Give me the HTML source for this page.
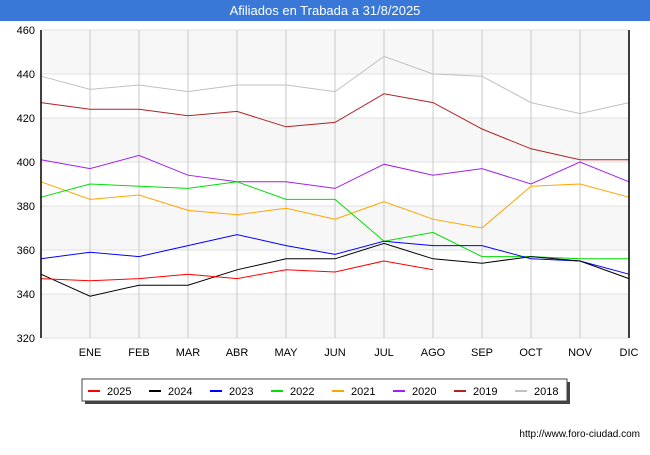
<!DOCTYPE html>
<html><head><meta charset="utf-8"><style>
body{margin:0;width:650px;height:450px;background:#fff;font-family:"Liberation Sans",sans-serif;overflow:hidden}
</style></head><body>
<svg id="c" width="650" height="450" xmlns="http://www.w3.org/2000/svg">
<rect x="0" y="0" width="650" height="21" fill="#3a78d8"/>
<text x="325" y="15" text-anchor="middle" font-size="13" fill="#fff">Afiliados en Trabada a 31/8/2025</text>
<g id="grid"></g><g id="series"></g><g id="axes"></g><g id="legend"></g>
<text x="640" y="437" text-anchor="end" font-size="10" fill="#000">http://www.foro-ciudad.com</text>
</svg>
<script>
const months=["","ENE","FEB","MAR","ABR","MAY","JUN","JUL","AGO","SEP","OCT","NOV","DIC"];
const yTicks=[320,340,360,380,400,420,440,460];
const seriesNames=["2025","2024","2023","2022","2021","2020","2019","2018"];
const seriesColors=["#ff0000","#000000","#0000ff","#00e000","#ffa500","#a020f0","#b22222","#c0c0c0"];
const s2025=[347,346,347,349,347,351,350,355,351];
const s2024=[349,339,344,344,351,356,356,363,356,354,357,355,347];
const s2023=[356,359,357,362,367,362,358,364,362,362,356,355,349];
const s2022=[384,390,389,388,391,383,383,364,368,357,357,356,356];
const s2021=[391,383,385,378,376,379,374,382,374,370,389,390,384];
const s2020=[401,397,403,394,391,391,388,399,394,397,390,400,391];
const s2019=[427,424,424,421,423,416,418,431,427,415,406,401,401];
const s2018=[439,433,435,432,435,435,432,448,440,439,427,422,427];
const allSeries=[s2025,s2024,s2023,s2022,s2021,s2020,s2019,s2018];
const NS="http://www.w3.org/2000/svg";
const X0=41,X1=629,Y0=338,Y1=30;
const xs=i=>X0+i*(X1-X0)/12;
const ys=v=>Y0-(v-320)*(Y0-Y1)/140;
function mk(t,a,p){const e=document.createElementNS(NS,t);for(const k in a)e.setAttribute(k,a[k]);p.appendChild(e);return e;}
const grid=document.getElementById('grid'),axes=document.getElementById('axes'),ser=document.getElementById('series'),leg=document.getElementById('legend');
for(let i=0;i<yTicks.length-1;i++){
 if(i%2===0){const b=mk('rect',{x:X0,y:ys(yTicks[i+1]),width:X1-X0,height:ys(yTicks[i])-ys(yTicks[i+1]),fill:'#f7f7f7'},grid);
 
 }
}
yTicks.forEach(v=>{
 const l=mk('line',{x1:X0,x2:X1,y1:ys(v),y2:ys(v),stroke:'#e0e0e0'},grid);
 
 
 const t=mk('text',{x:X0-6,y:ys(v)+4,'text-anchor':'end','font-size':11,fill:'#000'},axes);t.textContent=v;
 
 
});
months.forEach((m,i)=>{
 if(i>0){const l=mk('line',{x1:xs(i),x2:xs(i),y1:Y1,y2:Y0,stroke:'#c8c8c8'},grid);
 
 }
 if(m){const t=mk('text',{x:xs(i),y:356,'text-anchor':'middle','font-size':11,fill:'#000'},axes);t.textContent=m;
 
 }
});
const ax=mk('line',{x1:X0,x2:X0,y1:Y1,y2:Y0,stroke:'#000','stroke-width':1.5},axes);


const ar=mk('line',{x1:X1,x2:X1,y1:Y1,y2:Y0,stroke:'#000','stroke-width':1.5},axes);


for(let k=allSeries.length-1;k>=0;k--){
 const d=allSeries[k].map((v,i)=>(i?'L':'M')+xs(i)+' '+ys(v)).join(' ');
 const p=mk('path',{d:d,fill:'none',stroke:seriesColors[k],'stroke-width':1},ser);
 
 
}
const sh=mk('rect',{x:85,y:382,width:485,height:22,fill:'#444'},leg);


const lb=mk('rect',{x:82,y:379,width:485,height:22,fill:'#fff',stroke:'#444'},leg);


seriesNames.forEach((n,k)=>{
 const x=88+k*61;
 const l=mk('line',{x1:x,x2:x+12,y1:391,y2:391,stroke:seriesColors[k],'stroke-width':2},leg);
 
 
 const t=mk('text',{x:x+19,y:395,'font-size':11,fill:'#000'},leg);t.textContent=n;
 
 
});
</script>
</body></html>
